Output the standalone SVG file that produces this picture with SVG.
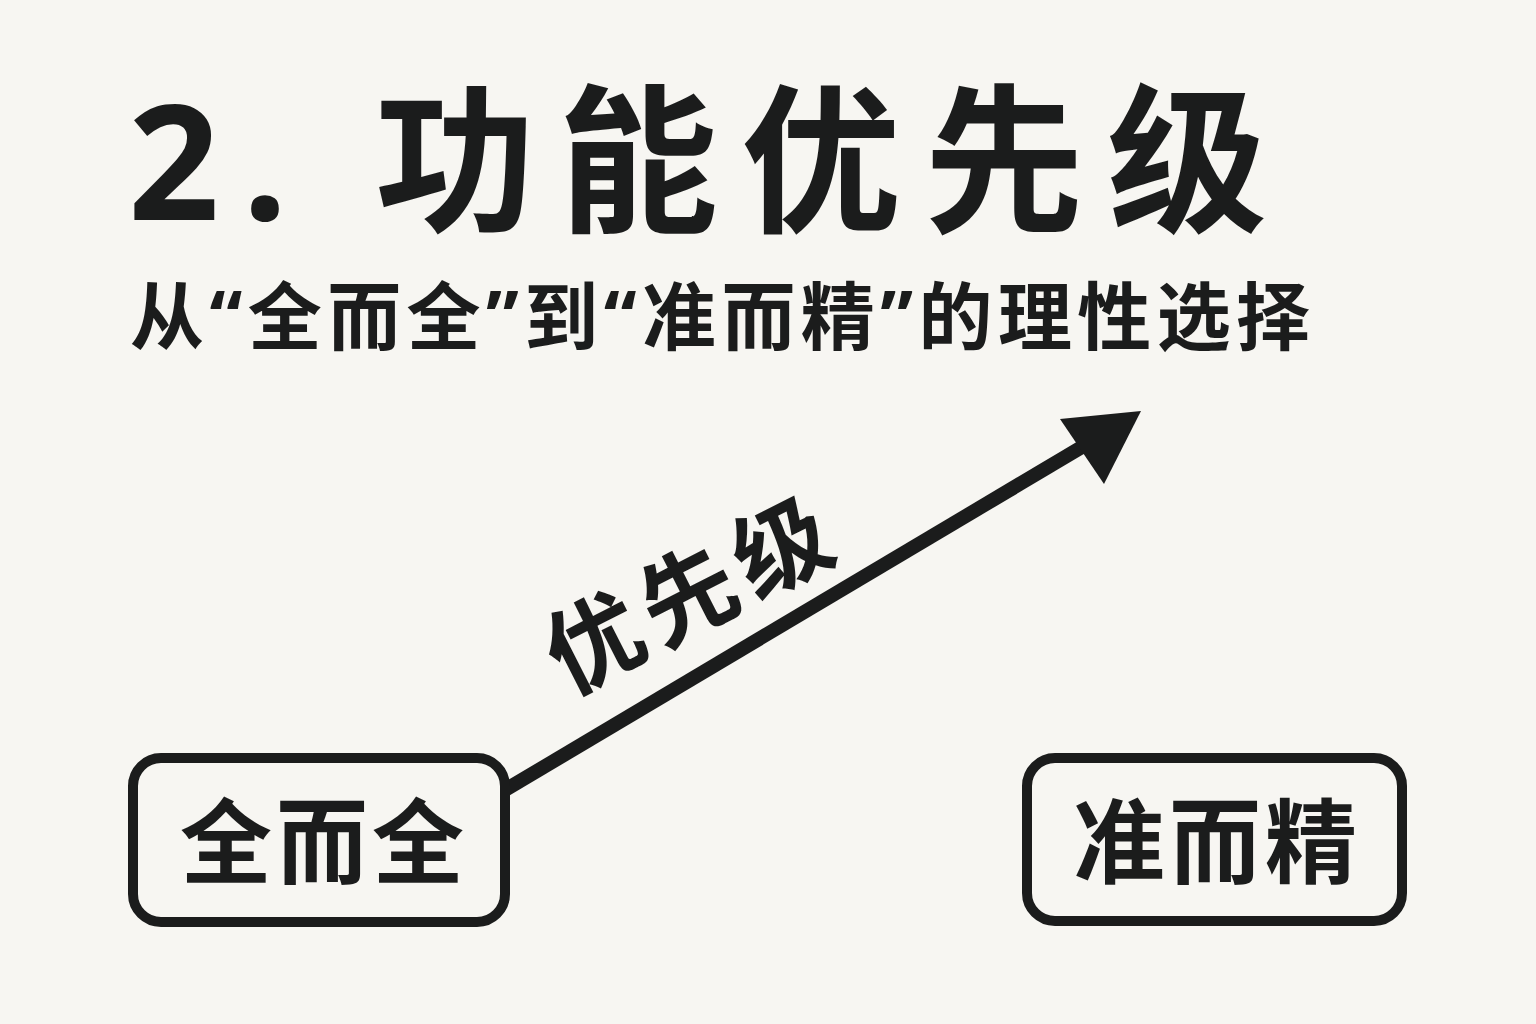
<svg xmlns="http://www.w3.org/2000/svg" width="1536" height="1024" viewBox="0 0 1536 1024">
  <style>
    .t { font-family: "Noto Sans", "Noto Sans CJK SC", sans-serif; fill: #1b1c1c; font-weight: 700; }
    .box { fill: none; stroke: #1b1c1c; stroke-width: 10; }
    .line { fill: none; stroke: #1b1c1c; stroke-width: 14; }
    .head { fill: #1b1c1c; }
  </style>
  <rect x="0" y="0" width="1536" height="1024" fill="#f7f6f2"/>
  <g id="title">
    <text class="t" x="128" y="220" font-size="160" letter-spacing="23">2. 功能优先级</text>
  </g>
  <g id="subtitle">
    <text class="t" x="130" y="344" font-size="74" letter-spacing="5.4">从“全而全”到“准而精”的理性选择</text>
  </g>
  <g id="connectors">
    <path class="line" d="M505,790 L1092,441"/>
    <path class="head" d="M1141,411 L1060,419 L1104,484 Z"/>
    <text class="t" font-size="96" letter-spacing="9" text-anchor="middle" transform="translate(688,594) rotate(-27)" x="4" y="36">优先级</text>
  </g>
  <g id="node-left">
    <rect class="box" x="133" y="758" width="372" height="164" rx="28"/>
    <text class="t" x="324" y="876" font-size="92" letter-spacing="4" text-anchor="middle">全而全</text>
  </g>
  <g id="node-right">
    <rect class="box" x="1027" y="758" width="375" height="163" rx="28"/>
    <text class="t" x="1217" y="876" font-size="92" letter-spacing="4" text-anchor="middle">准而精</text>
  </g>
</svg>
